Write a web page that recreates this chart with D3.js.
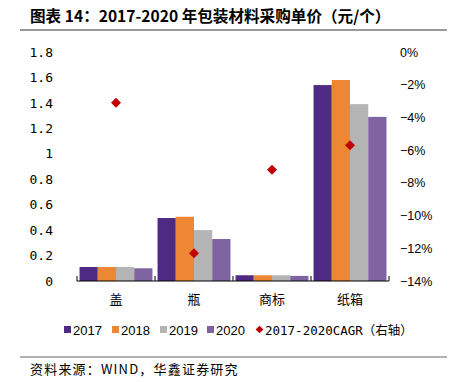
<!DOCTYPE html>
<html><head><meta charset="utf-8">
<script src="https://cdn.jsdelivr.net/npm/d3@7/dist/d3.min.js"></script>
<style>body{margin:0;background:#fff}svg{display:block}</style>
</head><body>
<script>
const categories = ["盖", "瓶", "商标", "纸箱"];
const years = ["2017", "2018", "2019", "2020"];
const v2017 = [0.11, 0.495, 0.045, 1.54];
const v2018 = [0.11, 0.505, 0.045, 1.58];
const v2019 = [0.11, 0.40, 0.045, 1.39];
const v2020 = [0.10, 0.33, 0.04, 1.29];
const cagr = [-0.031, -0.123, -0.072, -0.057];
const leftTicks = [0, 0.2, 0.4, 0.6, 0.8, 1, 1.2, 1.4, 1.6, 1.8];
const rightTicks = [0, -0.02, -0.04, -0.06, -0.08, -0.10, -0.12, -0.14];
const colors = ["#4E2A84", "#ED8733", "#B4B4B4", "#8064A2"];
const cagrColor = "#C00000";
const series = [v2017, v2018, v2019, v2020];

const W = 451, H = 382;
const svg = d3.select("body").append("svg").attr("width", W).attr("height", H);
const cjk = "'Noto Sans CJK SC', 'Noto Sans', sans-serif";
const latin = "'Liberation Sans', Arial, sans-serif";

// title
svg.append("text").attr("x", 30).attr("y", 22).attr("font-family", cjk)
  .attr("font-size", 15.6).attr("font-weight", "bold").attr("fill", "#000")
  .text("图表 14：2017-2020 年包装材料采购单价（元/个）");
svg.append("line").attr("x1", 20).attr("x2", 447).attr("y1", 30).attr("y2", 30)
  .attr("stroke", "#999").attr("stroke-width", 2);

const x0 = 77, x1 = 389, yTop = 52, yBot = 281;
const x = d3.scaleBand().domain(categories).range([x0, x1]).paddingInner(0).paddingOuter(0);
const xs = d3.scaleBand().domain(years).range([0, x.bandwidth()]).paddingInner(0).paddingOuter(0.14);
const yL = d3.scaleLinear().domain([0, 1.8]).range([yBot, yTop]);
const yR = d3.scaleLinear().domain([-0.14, 0]).range([yBot, yTop]);

// bars
series.forEach((s, si) => {
  svg.append("g").selectAll("rect").data(s).join("rect")
    .attr("x", (d, i) => x(categories[i]) + xs(years[si]))
    .attr("width", xs.bandwidth())
    .attr("y", d => yL(d))
    .attr("height", d => yBot - yL(d))
    .attr("fill", colors[si]);
});

// left axis
const gL = svg.append("g").attr("transform", `translate(${x0},0)`)
  .call(d3.axisLeft(yL).tickValues(leftTicks).tickSize(0).tickPadding(24)
    .tickFormat(d => d === 0 ? "0" : (d === 1 ? "1" : d3.format(".1f")(d))));
gL.select(".domain").remove();
gL.selectAll("text").attr("font-family", "'DejaVu Sans Mono', monospace").attr("font-size", 13).attr("fill", "#000");

// right axis
const gR = svg.append("g").attr("transform", `translate(${x1},0)`)
  .call(d3.axisRight(yR).tickValues(rightTicks).tickSize(0).tickPadding(11)
    .tickFormat(d => d === 0 ? "0%" : "\u2212" + Math.round(-d * 100) + "%"));
gR.select(".domain").remove();
gR.selectAll("text").attr("font-family", latin).attr("font-size", 12.5).attr("fill", "#000");

// x axis
const gX = svg.append("g").attr("transform", `translate(0,${yBot})`);
gX.append("line").attr("x1", x0).attr("x2", x1).attr("stroke", "#000").attr("stroke-width", 1.2);
const bounds = [x0].concat(categories.map(c => x(c) + x.bandwidth()));
gX.selectAll("line.t").data(bounds).join("line").attr("class", "t")
  .attr("x1", d => d).attr("x2", d => d).attr("y1", 0).attr("y2", -5)
  .attr("stroke", "#000").attr("stroke-width", 1);
gX.selectAll("text").data(categories).join("text")
  .attr("x", d => x(d) + x.bandwidth() / 2).attr("y", 23)
  .attr("text-anchor", "middle").attr("font-family", cjk).attr("font-size", 13).attr("fill", "#000")
  .text(d => d);

// CAGR diamonds
svg.append("g").selectAll("path").data(cagr).join("path")
  .attr("transform", (d, i) => `translate(${x(categories[i]) + x.bandwidth() / 2},${yR(d)}) rotate(45)`)
  .attr("d", d3.symbol().type(d3.symbolSquare).size(50))
  .attr("fill", cagrColor);

// legend
const leg = svg.append("g").attr("transform", "translate(0,330)");
const legItems = years.map((y, i) => ({label: y, color: colors[i], type: "sq"}))
  .concat([{label: "2017-2020CAGR（右轴）", color: cagrColor, type: "dia"}]);
const legX = [64, 112, 160, 207, 256];
legItems.forEach((it, i) => {
  const g = leg.append("g").attr("transform", `translate(${legX[i]},0)`);
  if (it.type === "sq") {
    g.append("rect").attr("x", 0).attr("y", -4).attr("width", 7).attr("height", 7).attr("fill", it.color);
  } else {
    g.append("path").attr("transform", "translate(3.5,-0.5) rotate(45)")
      .attr("d", d3.symbol().type(d3.symbolSquare).size(30)).attr("fill", it.color);
  }
  const t = g.append("text").attr("x", 9).attr("y", 5).attr("font-size", 13).attr("fill", "#000");
  if (it.type === "sq") {
    t.attr("font-family", latin).text(it.label);
  } else {
    t.append("tspan").attr("font-family", "'DejaVu Sans Mono', monospace").attr("font-size", 12.5).text("2017-2020CAGR");
    t.append("tspan").attr("font-family", cjk).attr("font-size", 12.5).text("（右轴）");
  }
});

// footer
svg.append("line").attr("x1", 20).attr("x2", 447).attr("y1", 357).attr("y2", 357)
  .attr("stroke", "#999").attr("stroke-width", 1.5);
svg.append("text").attr("x", 30).attr("y", 374).attr("font-family", cjk).attr("font-size", 13)
  .attr("letter-spacing", 1.2).attr("fill", "#000")
  .text("资料来源：WIND，华鑫证券研究");
</script>
</body></html>
